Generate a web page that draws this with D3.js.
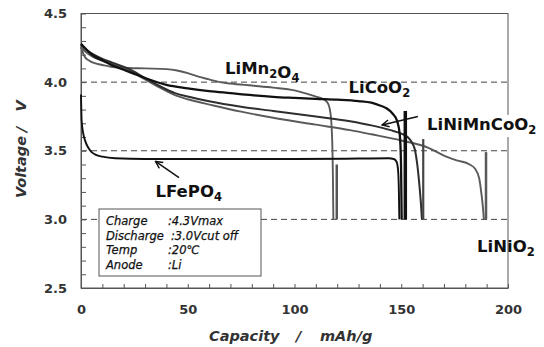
<!DOCTYPE html>
<html>
<head>
<meta charset="utf-8">
<script src="https://cdn.jsdelivr.net/npm/d3@7"></script>
<style>
  html, body { margin: 0; padding: 0; background: #fff; }
  svg { display: block; }
  text { font-family: "DejaVu Sans", Verdana, sans-serif; }
</style>
</head>
<body>
<svg id="chart" width="544" height="347"></svg>
<script>
// Discharge curves, [capacity mAh/g, voltage V]
const liCoO2 = [[0,4.28],[3,4.23],[6,4.19],[10,4.16],[15,4.12],[20,4.09],[25,4.06],[30,4.03],[40,3.98],[50,3.955],[60,3.935],[70,3.92],[80,3.905],[90,3.893],[100,3.885],[110,3.878],[120,3.872],[130,3.862],[136,3.85],[140,3.83],[143,3.81],[146,3.77],[148,3.72],[149.3,3.62],[149.9,3.4],[150.2,3.0]];
const liMn2O4 = [[0,4.26],[1,4.21],[2,4.18],[4,4.155],[6,4.14],[10,4.125],[14,4.112],[20,4.105],[30,4.1],[40,4.095],[45,4.085],[50,4.065],[55,4.04],[60,4.02],[65,4.0],[70,3.99],[80,3.975],[90,3.96],[100,3.94],[106,3.915],[110,3.895],[113,3.88],[115.5,3.85],[116.8,3.78],[117.6,3.6],[118,3.3],[118.2,3.0]];
const liNiMnCoO2 = [[0,4.27],[3,4.23],[6,4.2],[10,4.17],[15,4.14],[22,4.1],[30,4.03],[37,3.97],[44,3.92],[50,3.895],[60,3.86],[75,3.82],[90,3.79],[110,3.75],[126,3.715],[136,3.685],[145,3.65],[150,3.625],[153,3.6],[155,3.56],[156.5,3.5],[157.5,3.4],[158.5,3.25],[159.2,3.12],[159.7,3.0]];
const liNiO2 = [[0,4.25],[3,4.21],[6,4.18],[10,4.155],[15,4.13],[22,4.09],[30,4.02],[37,3.96],[44,3.905],[50,3.875],[62,3.83],[75,3.785],[90,3.74],[110,3.69],[126,3.65],[136,3.62],[150,3.575],[163,3.52],[170,3.465],[176,3.43],[182,3.4],[184.5,3.37],[186.5,3.3],[187.6,3.18],[188.3,3.08],[188.7,3.0]];
const liFePO4 = [[0,3.91],[0.3,3.72],[1,3.63],[2,3.57],[3.5,3.52],[5,3.49],[7,3.47],[10,3.457],[16,3.445],[30,3.44],[60,3.44],[100,3.44],[130,3.443],[144,3.445],[146.5,3.44],[147.8,3.42],[148.5,3.36],[148.9,3.2],[149.1,3.0]];

// Open-circuit recovery after cut-off
const restCapacity = [119.8, 151.9, 160.3, 189.7];
const restVoltage  = [3.40, 3.79, 3.585, 3.49];

// Axis ticks
const xTicks = d3.range(0, 201, 10);
const xLabels = [0, 50, 100, 150, 200];
const yTicks = d3.range(25, 46).map(d => d / 10);
const yLabels = [2.5, 3.0, 3.5, 4.0, 4.5];
const refLines = [3.0, 3.5, 4.0];

const conditions = [
  ["Charge", ":4.3Vmax"],
  ["Discharge", ":3.0Vcut off"],
  ["Temp", ":20\u2103"],
  ["Anode", ":Li"]
];

const svg = d3.select("#chart");
const x = d3.scaleLinear().domain([0, 200]).range([81, 508]);
const y = d3.scaleLinear().domain([2.5, 4.5]).range([288, 13.5]);

// plot frame
svg.append("rect")
  .attr("x", x(0)).attr("y", y(4.5))
  .attr("width", x(200) - x(0)).attr("height", y(2.5) - y(4.5))
  .attr("fill", "none").attr("stroke", "#555").attr("stroke-width", 1);

// dashed reference lines
svg.selectAll("line.ref").data(refLines).join("line")
  .attr("class", "ref")
  .attr("x1", x(0)).attr("x2", x(200))
  .attr("y1", d => y(d)).attr("y2", d => y(d))
  .attr("stroke", "#444").attr("stroke-width", 1)
  .attr("stroke-dasharray", "6,4");

// axes
const yAxis = d3.axisLeft(y)
  .tickValues(yTicks)
  .tickSizeInner(-5).tickSizeOuter(0).tickPadding(14)
  .tickFormat(d => yLabels.some(v => Math.abs(v - d) < 1e-9) ? d.toFixed(1) : "");
const gy = svg.append("g").attr("transform", `translate(${x(0)},0)`).call(yAxis);

const xAxis = d3.axisBottom(x)
  .tickValues(xTicks)
  .tickSizeInner(-4).tickSizeOuter(0).tickPadding(17)
  .tickFormat(d => xLabels.includes(d) ? d : "");
const gx = svg.append("g").attr("transform", `translate(0,${y(2.5)})`).call(xAxis);

[gx, gy].forEach(g => {
  g.select(".domain").attr("stroke", "#555");
  g.selectAll(".tick line").attr("stroke", "#555");
  g.selectAll(".tick text")
    .attr("font-family", "DejaVu Sans, Verdana, sans-serif")
    .attr("font-size", 13).attr("font-weight", "bold").attr("fill", "#333");
});

// condition box
const box = svg.append("g");
box.append("rect")
  .attr("x", 99).attr("y", 209).attr("width", 162).attr("height", 67)
  .attr("fill", "#fff").attr("stroke", "#555").attr("stroke-width", 1);
conditions.forEach((c, i) => {
  box.append("text").attr("x", 106).attr("y", 225 + i * 14.6)
    .attr("font-size", 11.5).attr("font-style", "italic").attr("fill", "#111")
    .attr("stroke", "#111").attr("stroke-width", 0.25)
    .text(c[0]);
  box.append("text").attr("x", i === 1 ? 171 : 168).attr("y", 225 + i * 14.6)
    .attr("font-size", 11.5).attr("font-style", "italic").attr("fill", "#111")
    .attr("stroke", "#111").attr("stroke-width", 0.25)
    .text(c[1]);
});

// curves
const line = d3.line().x(d => x(d[0])).y(d => y(d[1])).curve(d3.curveMonotoneX);
const series = [
  { data: liNiO2, color: "#5a5a5a", width: 1.9 },
  { data: liMn2O4, color: "#5a5a5a", width: 1.9 },
  { data: liNiMnCoO2, color: "#2e2e2e", width: 2.0 },
  { data: liCoO2, color: "#111", width: 2.3 },
  { data: liFePO4, color: "#111", width: 1.9 }
];
svg.selectAll("path.curve").data(series).join("path")
  .attr("class", "curve")
  .attr("d", d => line(d.data))
  .attr("fill", "none")
  .attr("stroke", d => d.color)
  .attr("stroke-width", d => d.width)
  .attr("stroke-linejoin", "round");

const restColor = ["#555", "#111", "#444", "#5a5a5a"];
const restWidth = [2.5, 3.5, 2.2, 2.5];
svg.selectAll("line.rest").data(restCapacity).join("line")
  .attr("class", "rest")
  .attr("x1", d => x(d)).attr("x2", d => x(d))
  .attr("y1", y(3.0)).attr("y2", (d, i) => y(restVoltage[i]))
  .attr("stroke", (d, i) => restColor[i])
  .attr("stroke-width", (d, i) => restWidth[i]);

// arrows
svg.append("defs").append("marker")
  .attr("id", "arrowhead")
  .attr("viewBox", "-9 -5 10 10")
  .attr("refX", 0).attr("refY", 0)
  .attr("markerWidth", 10).attr("markerHeight", 10)
  .attr("markerUnits", "userSpaceOnUse")
  .attr("orient", "auto")
  .append("path")
  .attr("d", "M-7,-3.5L0,0L-7,3.5")
  .attr("fill", "none").attr("stroke", "#111").attr("stroke-width", 1.4);

const arrows = [
  { from: [45.9, 3.305], to: [34.9, 3.422] },
  { from: [157.8, 3.75], to: [141, 3.688] }
];
svg.selectAll("line.arrow").data(arrows).join("line")
  .attr("class", "arrow")
  .attr("x1", d => x(d.from[0])).attr("y1", d => y(d.from[1]))
  .attr("x2", d => x(d.to[0])).attr("y2", d => y(d.to[1]))
  .attr("stroke", "#111").attr("stroke-width", 1.5)
  .attr("marker-end", "url(#arrowhead)");

// series labels with subscripts
function formula(px, py, parts, bg) {
  const g = svg.append("g");
  const t = g.append("text").attr("x", px).attr("y", py)
    .attr("font-size", 16.5).attr("font-weight", "bold").attr("fill", "#111");
  parts.forEach(p => {
    if (p.sub) {
      t.append("tspan").attr("font-size", 11.5).attr("dy", 4).text(p.sub);
      t.append("tspan").attr("dy", -4).text("");
    } else {
      t.append("tspan").text(p.t);
    }
  });
  if (bg) {
    const b = t.node().getBBox();
    g.insert("rect", "text").attr("x", b.x - 2).attr("y", b.y).attr("width", b.width + 4)
      .attr("height", b.height).attr("fill", "#fff");
  }
}
formula(225, 73.5, [{ t: "LiMn" }, { sub: "2" }, { t: "O" }, { sub: "4" }]);
formula(348.5, 93, [{ t: "LiCoO" }, { sub: "2" }]);
formula(427, 130, [{ t: "LiNiMnCoO" }, { sub: "2" }], true);
formula(155.5, 196.5, [{ t: "LFePO" }, { sub: "4" }]);
formula(477, 251.5, [{ t: "LiNiO" }, { sub: "2" }]);

// axis titles
const titleStyle = sel => sel.attr("font-size", 14.5).attr("font-weight", "bold")
  .attr("font-style", "italic").attr("fill", "#333");
svg.append("text").attr("x", 209).attr("y", 340.5).call(titleStyle).text("Capacity");
svg.append("text").attr("x", 296).attr("y", 340.5).call(titleStyle).text("/");
svg.append("text").attr("x", 320).attr("y", 340.5).call(titleStyle).text("mAh/g");

const yt = svg.append("g").attr("transform", "translate(26,0) rotate(-90)");
yt.append("text").attr("x", -198).attr("y", 0).call(titleStyle).text("Voltage");
yt.append("text").attr("x", -132).attr("y", 0).call(titleStyle).text("/");
yt.append("text").attr("x", -111.5).attr("y", 0).call(titleStyle).text("V");
</script>
</body>
</html>
